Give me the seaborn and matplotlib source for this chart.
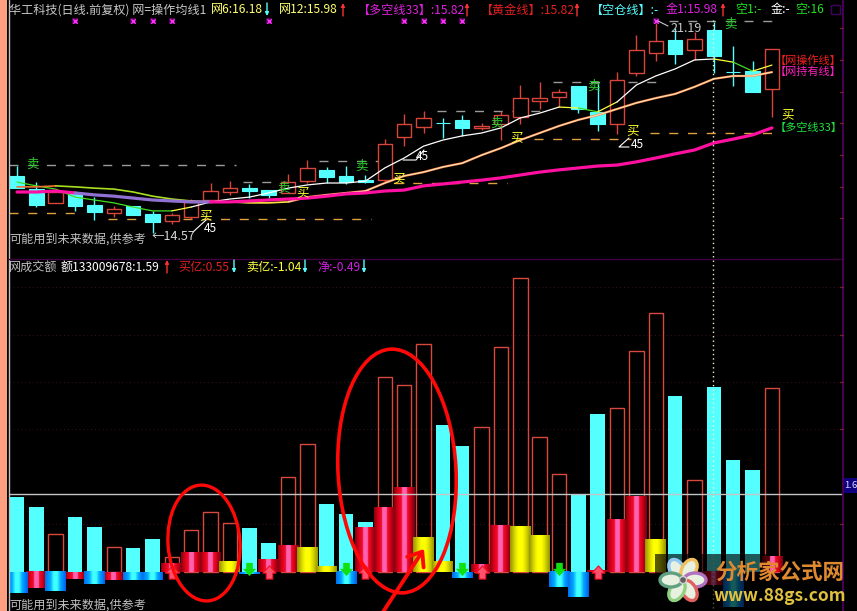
import numpy as np
import pandas as pd
import seaborn as sns
import matplotlib
matplotlib.use("Agg")
import matplotlib.pyplot as plt
from matplotlib.colors import LinearSegmentedColormap
from matplotlib.patches import Ellipse, Rectangle, FancyArrowPatch
from matplotlib.path import Path

# candles (price), one per trading day
body_top = [16.36, 15.95, 15.86, 15.83, 15.45, 15.33, 15.42, 15.17, 15.14, 15.55, 15.89, 15.98, 15.98, 15.92, 16.17, 16.61, 16.55, 16.36, 16.23, 17.36,
            17.98, 18.17, 18.01, 18.11, 17.92, 18.26, 18.79, 18.79, 18.98, 19.17, 18.36, 19.35, 20.29, 20.57, 20.60, 20.63, 20.91, 19.60, 19.63, 20.32]
body_bot = [15.98, 15.45, 15.52, 15.42, 15.24, 15.20, 15.14, 14.92, 14.95, 15.08, 15.61, 15.86, 15.89, 15.77, 15.83, 16.20, 16.33, 16.17, 16.17, 16.23,
            17.58, 17.89, 18.01, 17.86, 17.86, 17.98, 18.20, 18.70, 18.82, 18.45, 17.98, 17.98, 19.57, 20.20, 20.17, 20.29, 20.10, 19.60, 18.98, 19.07]
high = [16.67, 16.17, 15.95, 15.86, 15.70, 15.42, 15.42, 15.27, 15.20, 15.64, 16.14, 16.20, 16.11, 15.92, 16.42, 16.86, 16.64, 16.67, 16.39, 17.51,
        18.29, 18.39, 18.17, 18.26, 18.01, 18.39, 19.20, 19.29, 19.07, 19.17, 19.26, 19.60, 20.76, 21.16, 20.98, 20.85, 21.16, 20.41, 19.95, 20.32]
low = [15.98, 15.39, 15.52, 15.27, 14.99, 15.08, 15.14, 14.58, 14.86, 15.02, 15.61, 15.77, 15.67, 15.67, 15.83, 16.14, 16.14, 16.11, 16.14, 16.14,
       17.29, 17.70, 17.54, 17.61, 17.79, 17.48, 17.98, 18.45, 18.51, 18.32, 17.76, 17.67, 19.48, 19.95, 19.85, 19.98, 19.57, 19.17, 18.98, 18.20]
up_days = [2, 5, 8, 9, 10, 11, 14, 15, 19, 20, 21, 24, 25, 26, 27, 28, 31, 32, 33, 35, 39]

ma6 = [16.17, 16.05, 15.95, 15.70, 15.61, 15.52, 15.39, 15.27, 15.27, 15.39, 15.55, 15.64, 15.70, 15.83, 15.98, 16.08, 16.14, 16.14, 16.20, 16.61,
       16.92, 17.29, 17.48, 17.61, 17.70, 17.86, 18.17, 18.32, 18.51, 18.48, 18.36, 18.67, 19.20, 19.48, 19.70, 19.98, 20.01, 19.91, 19.63, 19.82]
ma12 = [16.02, 16.02, 16.05, 16.02, 15.98, 15.95, 15.86, 15.73, 15.64, 15.58, 15.55, 15.55, 15.52, 15.52, 15.55, 15.70, 15.77, 15.83, 15.89, 16.14,
        16.36, 16.48, 16.64, 16.76, 17.01, 17.23, 17.48, 17.70, 17.92, 18.11, 18.26, 18.45, 18.64, 18.79, 18.92, 19.14, 19.39, 19.48, 19.48, 19.60]
ma33 = [15.86, 15.86, 15.89, 15.83, 15.77, 15.73, 15.67, 15.61, 15.58, 15.55, 15.55, 15.55, 15.58, 15.61, 15.64, 15.67, 15.73, 15.80, 15.83, 15.89,
        15.92, 16.05, 16.11, 16.17, 16.23, 16.30, 16.39, 16.48, 16.55, 16.61, 16.67, 16.70, 16.80, 16.92, 17.05, 17.17, 17.39, 17.51, 17.64, 17.86]

ma6_runs = [(0, 8, "#40e020"), (8, 9, "#ffff40"), (9, 28, "#ffffff"), (28, 29, "#ffff40"), (29, 30, "#40e020"), (30, 31, "#ffff40"),
            (31, 36, "#ffffff"), (36, 37, "#ffff40"), (37, 38, "#40e020"), (38, 39, "#ffff40")]
ma12_runs = [(0, 2, "#f07030"), (2, 9, "#a8e020"), (9, 14, "#ffe040")]
ma33_runs = [(0, 3, "#ff10a0"), (3, 10, "#9070d0"), (10, 39, "#ff10a0")]

signal_days = [3, 6, 7, 8, 13, 20, 21, 22, 23, 33]
signal_price = 21.19

# dashed levels: price, first day, last day
grey_levels = [(16.70, -0.4, 11.3), (16.17, 11.7, 13.9), (16.83, 15.6, 19.4), (18.39, 21.7, 27.2), (19.29, 27.7, 33.3), (21.19, 33.7, 39.3)]
orange_levels = [(15.20, -0.4, 3.3), (15.02, 4.7, 18.3), (16.14, 19.5, 25.3), (17.51, 26.7, 31.7), (17.70, 32.7, 39.3)]

# turnover panel
volume = [1.54, 1.33, 0.78, 1.13, 0.92, 0.51, 0.49, 0.68, 0.31, 0.86, 1.23, 1.01, 0.90, 0.59, 1.95, 2.63, 1.39, 1.19, 1.03, 4.00,
          3.84, 4.68, 3.02, 2.58, 2.97, 4.62, 6.03, 2.77, 2.01, 1.60, 3.24, 3.36, 4.53, 5.31, 3.61, 1.89, 3.79, 2.30, 2.09, 3.77]
net = [-0.43, -0.33, -0.39, -0.14, -0.25, -0.16, -0.16, -0.16, 0.18, 0.39, 0.41, 0.21, -0.04, 0.25, 0.55, 0.51, 0.12, -0.25, 0.92, 1.33,
       1.74, 0.70, 0.21, -0.12, 0.16, 0.96, 0.94, 0.74, -0.31, -0.51, 0.04, 1.07, 1.54, 0.66, 0.0, 0.0, -0.27, -0.72, 0.0, 0.31]
net_kind = list("brbrbrbbrrrybrryybrrryybrryybbrrryrrrbrr")
green_arrow_days = [12, 17, 23, 28]
red_arrow_days = [8, 13, 18, 24, 30]
cursor_value = 1.60
grid_values = [5.85, 4.87, 3.90, 2.94, 0.98]

days = np.arange(len(volume))
up = np.isin(days, up_days)
df = pd.DataFrame({"day": days, "volume": volume, "net": net, "kind": net_kind, "up": up})

W, H = 857, 611
RED = "#d8453a"
CYAN = "#54ffff"
BAR_RED = "#d8483c"

sns.set_theme(style="dark", rc={"axes.facecolor": "black", "figure.facecolor": "black", "axes.grid": False})
plt.rcParams["font.family"] = ["Noto Sans CJK SC", "DejaVu Sans"]
plt.rcParams["axes.unicode_minus"] = False


def panel(top, bottom):
    a = fig.add_axes([9 / W, 1 - bottom / H, (843 - 9) / W, (bottom - top) / H])
    a.set_axis_off()
    return a


fig = plt.figure(figsize=(W / 100, H / 100), dpi=100)
ax1 = panel(16, 258)
ax2 = panel(258, 611)
xlim = (-0.413, 42.67)

# --- price panel
for p, a, b in grey_levels:
    ax1.hlines(p, a, b, color="#9a9a9a", lw=1, linestyles=(0, (6.5, 7)), zorder=1)
for p, a, b in orange_levels:
    ax1.hlines(p, a, b, color="#e0a040", lw=1, linestyles=(0, (6.5, 7)), zorder=1)

colors = [RED if u else CYAN for u in up]
ax1.vlines(days, low, high, colors=colors, lw=1, zorder=2)
heights = np.array(body_top) - np.array(body_bot)
ax1.bar(days[up], heights[up], bottom=np.array(body_bot)[up], width=0.75, facecolor="black", edgecolor=RED, lw=1, zorder=3)
ax1.bar(days[~up], heights[~up], bottom=np.array(body_bot)[~up], width=0.75, facecolor=CYAN, edgecolor=CYAN, lw=0.8, zorder=3)

for a, b, c in ma6_runs:
    sns.lineplot(x=days[a:b + 1], y=ma6[a:b + 1], color=c, lw=0.9, estimator=None, ax=ax1, zorder=4)
for a, b, c in ma12_runs:
    sns.lineplot(x=days[a:b + 1], y=ma12[a:b + 1], color=c, lw=1.2, estimator=None, ax=ax1, zorder=4)
sns.lineplot(x=days[14:], y=ma12[14:], color="#ff8a50", lw=1.6, estimator=None, ax=ax1, zorder=4)
sns.lineplot(x=days[14:], y=ma12[14:], color="#fff4c8", lw=0.6, estimator=None, ax=ax1, zorder=5)
for a, b, c in ma33_runs:
    sns.lineplot(x=days[a:b + 1], y=ma33[a:b + 1], color=c, lw=2.3, estimator=None, ax=ax1, zorder=5)
sns.scatterplot(x=signal_days, y=[signal_price] * len(signal_days), marker="s", s=20, color="#500050", lw=0, ax=ax1, zorder=5)
sns.scatterplot(x=signal_days, y=[signal_price] * len(signal_days), marker="x", s=10, color="#ff30ff", lw=1, ax=ax1, zorder=6)
ax1.set_xlim(*xlim)
ax1.set_ylim(21.85 - 0.0312 * 258, 21.85 - 0.0312 * 16)

# --- turnover panel
for v in grid_values:
    ax2.axhline(v, color="#3a1020", lw=0.7, ls=(0, (1, 3)), zorder=0)
sns.barplot(data=df[~df.up], x="day", y="volume", native_scale=True, color=CYAN, saturation=1, width=0.75,
            errorbar=None, linewidth=0, ax=ax2, zorder=2)
sns.barplot(data=df[df.up], x="day", y="volume", native_scale=True, color=BAR_RED, saturation=1, width=0.75,
            errorbar=None, fill=False, linewidth=1, ax=ax2, zorder=2)

ramps = {
    "r": LinearSegmentedColormap.from_list("r", [(0, "#8a0010"), (0.2, "#e0001a"), (0.36, "#f01030"), (0.4, "#ff60b0"), (0.6, "#ff60b0"),
                                                 (0.64, "#f01030"), (0.8, "#d00018"), (1, "#780010")]),
    "b": LinearSegmentedColormap.from_list("b", [(0, "#0070f0"), (0.25, "#00a8ff"), (0.42, "#40ffff"), (0.58, "#40ffff"), (0.75, "#00a8ff"), (1, "#0060f0")]),
    "y": LinearSegmentedColormap.from_list("y", [(0, "#989800"), (0.25, "#e0e000"), (0.4, "#ffff00"), (0.6, "#ffff00"), (0.75, "#e0e000"), (1, "#989800")]),
}
ramp = np.linspace(0, 1, 32).reshape(1, -1)
for kind, cmap in ramps.items():
    sub = df[(df.kind == kind) & (df.net != 0)]
    before = len(ax2.patches)
    sns.barplot(data=sub, x="day", y="net", native_scale=True, color="black", saturation=1, width=1.08,
                errorbar=None, linewidth=0, ax=ax2, zorder=3)
    for bar in ax2.patches[before:]:
        x0, y0, w, h = bar.get_x(), bar.get_y(), bar.get_width(), bar.get_height()
        ax2.imshow(ramp, cmap=cmap, vmin=0, vmax=1, aspect="auto", zorder=3.2, extent=[x0, x0 + w, min(y0, y0 + h), max(y0, y0 + h)])

down_arrow = Path([(-0.5, 0.1), (-1, 0.1), (0, -1), (1, 0.1), (0.5, 0.1), (0.5, 1), (-0.5, 1), (-0.5, 0.1)], closed=True)
up_arrow = Path([(-0.5, -0.1), (-1, -0.1), (0, 1), (1, -0.1), (0.5, -0.1), (0.5, -1), (-0.5, -1), (-0.5, -0.1)], closed=True)
ax2.scatter(green_arrow_days, [0.06] * len(green_arrow_days), marker=down_arrow, s=90, c="#10e010", lw=0, zorder=5)
ax2.scatter(red_arrow_days, [0.0] * len(red_arrow_days), marker=up_arrow, s=90, c="#ff5070", edgecolors="#f01020", lw=0.8, zorder=5)
ax2.axhline(cursor_value, color="#c4c4c4", lw=1, zorder=6)
ax2.set_xlim(*xlim)
ax2.set_ylim(-0.80, 6.44)

# --- everything else sits on a full figure overlay in pixels
ov = fig.add_axes([0, 0, 1, 1], facecolor="none", zorder=10)
ov.set_xlim(0, W)
ov.set_ylim(H, 0)
ov.set_axis_off()

ov.add_patch(Rectangle((0, 0), 7, H, color="#ffa080", lw=0))
ov.plot([9, 9], [0, H], color="#c0c0c0", lw=1)
ov.plot([9, 843], [258.5, 258.5], color="#400040", lw=1)
ov.plot([843.5, 843.5], [0, H], color="#500060", lw=1.3)
for y in [28, 60, 92, 123, 155, 187, 218, 287, 335, 382, 429, 524]:
    ov.plot([840, 843], [y, y], color="#702030", lw=1)
ov.add_patch(Rectangle((831, 5), 9, 9, fc="none", ec="#400060", lw=1))
ov.add_patch(Rectangle((844, 478), 13, 15, color="#100080", lw=0))
ov.text(844, 486, "1.6", color="#e0e0ff", fontsize=6.8, va="center")
ov.plot([713, 713], [20, 611], color="#f0f0c0", lw=1, ls=(0, (1, 2.2)), zorder=1)


def label(x, y, s, color, size=8.7, **kw):
    ov.text(x, y, s, color=color, fontsize=size, va="center", ha=kw.pop("ha", "left"), **kw)


def arrow(x, color, y0, y1):
    ov.annotate("", xy=(x, y1), xytext=(x, y0),
                arrowprops=dict(arrowstyle="-|>", color=color, lw=1, mutation_scale=5, shrinkA=0, shrinkB=0))


label(9, 10, "华工科技(日线.前复权) 网=操作均线1", "#c8c8c8")
label(211, 10, "网6:16.18", "#ffff70")
arrow(267, CYAN, 3, 16)
label(279, 10, "网12:15.98", "#ffff70")
arrow(343, "#ff3030", 16, 3)
label(358, 10, "【多空线33】:15.82", "#e020e0")
arrow(467, "#ff3030", 16, 3)
label(481, 10, "【黄金线】:15.82", "#e02020")
arrow(577, "#ff3030", 16, 3)
label(591, 10, "【空仓线】:-", CYAN)
label(666, 10, "金1:15.98", "#e020e0")
arrow(723, "#ff3030", 16, 3)
label(735, 10, "空1:-", "#20e020")
label(771, 10, "金:-", "#ffffff")
label(795, 10, "空:16", "#20e020")

label(9, 267, "网成交额", "#c0c0c0")
label(61, 267, "额133009678:1.59", "#ffffff")
arrow(167, "#ff3030", 273, 260)
label(178, 267, "买亿:0.55", "#e02020")
arrow(234, CYAN, 260, 273)
label(246, 267, "卖亿:-1.04", "#ffff40")
arrow(305, CYAN, 260, 273)
label(317, 267, "净:-0.49", "#d020e0")
arrow(364, CYAN, 260, 273)

label(9, 239, "可能用到未来数据,供参考", "#c0c0c0")
label(9, 605, "可能用到未来数据,供参考", "#c0c0c0")

for x, y in [(32, 164), (283, 188), (361, 166), (496, 123), (593, 86), (730, 24)]:
    label(x, y, "卖", "#30d030", size=9, ha="center")
for x, y in [(206, 216), (303, 193), (399, 179), (517, 138), (633, 131), (788, 115)]:
    label(x, y, "买", "#ffff30", size=9, ha="center")
label(775, 61, "【网操作线】", "#f02020", size=8)
label(775, 72, "【网持有线】", "#ff20c0", size=8)
label(775, 128, "【多空线33】", "#20e040", size=8)

label(204, 229, "45", "#ffffff", size=8.6)
ov.plot([193, 206], [232, 220], color="#ffffff", lw=0.8)
label(416, 157, "45", "#ffffff", size=8.6)
ov.plot([403, 416, 424], [160, 160, 150], color="#ffffff", lw=0.8)
label(631, 144, "45", "#ffffff", size=8.6)
ov.plot([629, 619, 629], [138, 147, 147], color="#ffffff", lw=0.8)
label(152, 236, "←14.57", "#d8d8d8", size=9)
label(670, 28, "21.19", "#c8c8c8", size=9)
ov.plot([658, 668], [21, 26], color="#c8c8c8", lw=0.8)

# hand drawn marks
ov.add_patch(Ellipse((204, 543), 72, 116, angle=-4, fc="none", ec="#ff0808", lw=2.4))
ov.add_patch(Ellipse((397, 471), 118, 244, angle=-3, fc="none", ec="#ff0808", lw=2.6))
ov.add_patch(FancyArrowPatch((383, 612), (424, 549), arrowstyle="->,head_length=9,head_width=7", color="#ff0808", lw=2.8, shrinkA=0, shrinkB=0))

# watermark
ov.add_patch(Rectangle((655, 554), 115, 57, color="black", alpha=0.65, lw=0))
petals = ["#90c8f0", "#f0c060", "#b070c0", "#e06060", "#90d080", "#60a080"]
for i, c in enumerate(petals):
    ang = np.deg2rad(-120 + 60 * i)
    cx, cy = 683 + 12 * np.cos(ang), 580 + 12 * np.sin(ang)
    ov.add_patch(Ellipse((cx, cy), 22, 14, angle=np.rad2deg(ang), fc="#e8f0e0", ec=c, lw=2.4))
ov.add_patch(Ellipse((683, 580), 7, 7, fc="#606060", ec="#d0d0d0", lw=1))
label(715, 572, "分析家公式网", "#e08a30", size=15.5, fontweight="bold")
label(714, 596, "www.88gs.com", "#e0c040", size=12.5, fontweight="bold", fontstyle="italic")

fig.savefig("out.png", dpi=100, facecolor="black")
